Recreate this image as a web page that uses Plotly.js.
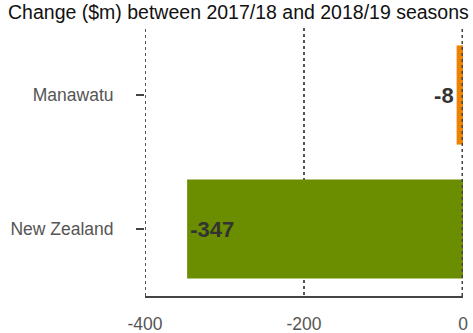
<!DOCTYPE html>
<html><head><meta charset="utf-8">
<script src="https://cdn.plot.ly/plotly-3.0.1.min.js"></script>
<style>html,body{margin:0;padding:0;background:#fff}#c{width:473px;height:333px}</style>
</head><body><div id="c"></div>
<script>
const regions = ['Manawatu', 'New Zealand'];
const changes = [-8, -347];
const barColors = ['#EE8100', '#6B8E00'];
const xTicks = [-400, -200, 0];
const chartTitle = 'Change ($m) between 2017/18 and 2018/19 seasons';

const trace = {
  type: 'bar', orientation: 'h',
  y: regions, x: changes,
  marker: {color: barColors},
  width: 0.74,
  text: changes.map(String),
  textposition: 'auto',
  insidetextanchor: 'end',
  textfont: {family: 'Liberation Sans, Arial, sans-serif', size: 22, color: '#333', weight: 'bold'},
  cliponaxis: false,
  hoverinfo: 'none'
};
const layout = {
  width: 473, height: 333,
  margin: {l: 145, r: 10, t: 28, b: 37},
  paper_bgcolor: '#fff', plot_bgcolor: '#fff',
  showlegend: false,
  font: {family: 'Liberation Sans, Arial, sans-serif', size: 17.5, color: '#555'},
  title: {text: chartTitle, x: 0.017, xanchor: 'left', y: 0.985, yanchor: 'top',
          font: {size: 19.5, color: '#111'}},
  xaxis: {range: [-400, 0], tickvals: xTicks, ticktext: xTicks.map(String),
          showgrid: true, gridcolor: '#555', griddash: 'dot', gridwidth: 1.5,
          zeroline: false, showline: true, linecolor: '#444', linewidth: 2,
          ticks: '', ticklabelstandoff: 11, automargin: false, fixedrange: true},
  yaxis: {autorange: 'reversed', ticks: 'outside', ticklen: 8, tickwidth: 2, tickcolor: '#444',
          showgrid: false, zeroline: false, showline: false,
          ticklabelstandoff: 19, automargin: false, fixedrange: true},
  shapes: [
    {type: 'line', xref: 'x', yref: 'paper', x0: 0, x1: 0, y0: 0, y1: 1,
     line: {color: '#444', width: 3, dash: 'dot'}},
    {type: 'line', xref: 'x', yref: 'paper', x0: -400, x1: -400, y0: 0, y1: 1,
     line: {color: '#555', width: 2, dash: 'dot'}}
  ]
};
Plotly.newPlot('c', [trace], layout, {displayModeBar: false, staticPlot: true});
</script></body></html>
